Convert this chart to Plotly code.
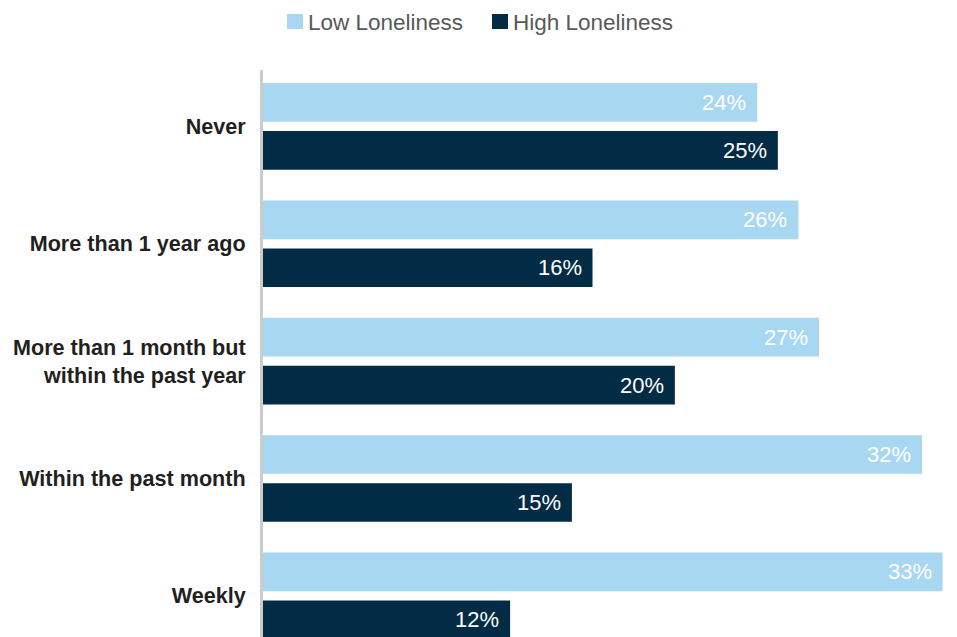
import plotly.graph_objects as go

categories = ["Never", "More than 1 year ago", "More than 1 month but<br>within the past year",
              "Within the past month", "Weekly"]
low_values = [24, 26, 27, 32, 33]
high_values = [25, 16, 20, 15, 12]
series_names = ["Low Loneliness", "High Loneliness"]
colors = ["#A8D8F1", "#022B46"]

FONT = "Liberation Sans, Arial, Helvetica, sans-serif"

fig = go.Figure()
for name, vals, col in zip(series_names, [low_values, high_values], colors):
    fig.add_trace(go.Bar(
        y=categories, x=vals, name=name, orientation="h",
        marker=dict(color=col, line=dict(width=0)),
        showlegend=False, hoverinfo="skip",
    ))

annotations = []
for vals, shift in [(low_values, 24), (high_values, -24)]:
    for c, v in zip(categories, vals):
        annotations.append(dict(
            x=v, y=c, xref="x", yref="y", text=f"{v}%", showarrow=False,
            xanchor="right", yanchor="middle", xshift=-9, yshift=shift,
            font=dict(family=FONT, size=22, color="#FFFFFF"),
        ))

# custom legend
legend_x = [0.0346, 0.330]
for name, col, lx in zip(series_names, colors, legend_x):
    fig.add_shape(type="rect", xref="paper", yref="paper",
                  x0=lx, x1=lx + 16 / 694, y0=(637 - 29) / 567, y1=(637 - 14) / 567,
                  fillcolor=col, line=dict(width=0))
    annotations.append(dict(
        x=lx + 19 / 694, y=(637 - 22) / 567, xref="paper", yref="paper",
        text=name, showarrow=False, xanchor="left", yanchor="middle",
        font=dict(family=FONT, size=22.5, color="#595959"),
    ))

fig.update_layout(
    width=957, height=637,
    margin=dict(l=263, r=0, t=70, b=0, pad=0),
    paper_bgcolor="white", plot_bgcolor="white",
    barmode="group", bargap=0.182, bargroupgap=0.194,
    annotations=annotations,
    xaxis=dict(range=[0, 33.7], visible=False, showgrid=False, zeroline=False),
    yaxis=dict(
        type="category", categoryorder="array", categoryarray=categories,
        range=[4.351, -0.481],
        showline=True, linecolor="#CCCCCC", linewidth=3,
        showgrid=False, zeroline=False, ticks="",
        ticklabelstandoff=10,
        tickfont=dict(family=FONT, size=21.6, color="#231F20", weight="bold"),
    ),
)

fig.write_html("out.html")
